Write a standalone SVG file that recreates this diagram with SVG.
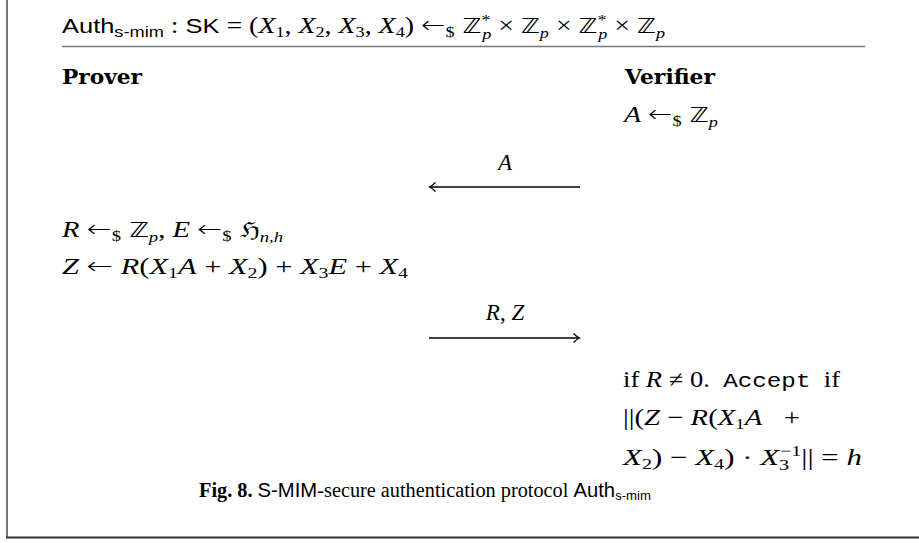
<svg xmlns="http://www.w3.org/2000/svg" width="919" height="543" viewBox="0 0 919 543">
<style>
.m { font-family: "Liberation Serif", serif; font-size: 23px; fill: #000; }
.i { font-style: italic; }
.sf { font-family: "Liberation Sans", sans-serif; }
.bb { font-family: "DejaVu Sans", sans-serif; font-style: normal; font-size: 21px; }
.ar { font-family: "DejaVu Sans", sans-serif; font-size: 24px; font-style: normal; font-weight: 200; }
.b { font-family: "DejaVu Serif", serif; font-weight: bold; font-size: 20px; fill: #000; }
.tt { font-family: "Liberation Mono", monospace; font-size: 21px; }
.s { font-size: 15px; }
.cap { font-family: "Liberation Serif", serif; font-size: 20px; fill: #000; }
.frame { stroke: #777; stroke-width: 2; fill: none; }
.conn { stroke: #000; stroke-width: 1.3; fill: none; }
</style>
<rect width="919" height="543" fill="#fff"/>
<line class="frame" x1="7" y1="0" x2="7" y2="538"/>
<line x1="6" y1="537.5" x2="919" y2="537.5" stroke="#333" stroke-width="2"/>

<g id="header">
<text class="m" x="62" y="33" textLength="603" lengthAdjust="spacingAndGlyphs"><tspan class="sf" font-size="21">Auth</tspan><tspan class="sf s" dy="4">s-mim</tspan><tspan dy="-4"> : </tspan><tspan class="sf" font-size="21">SK</tspan> = (<tspan class="i">X</tspan><tspan class="s" dy="4">1</tspan><tspan dy="-4">, </tspan><tspan class="i">X</tspan><tspan class="s" dy="4">2</tspan><tspan dy="-4">, </tspan><tspan class="i">X</tspan><tspan class="s" dy="4">3</tspan><tspan dy="-4">, </tspan><tspan class="i">X</tspan><tspan class="s" dy="4">4</tspan><tspan dy="-4">) </tspan><tspan class="ar">←</tspan><tspan class="s" dy="4">$</tspan><tspan class="bb" dy="-4"> ℤ</tspan><tspan class="s" dy="-8">*</tspan><tspan class="s i" dx="-7" dy="14">p</tspan><tspan dy="-6"> × </tspan><tspan class="bb">ℤ</tspan><tspan class="s i" dy="5">p</tspan><tspan dy="-5"> × </tspan><tspan class="bb">ℤ</tspan><tspan class="s" dy="-8">*</tspan><tspan class="s i" dx="-7" dy="14">p</tspan><tspan dy="-6"> × </tspan><tspan class="bb">ℤ</tspan><tspan class="s i" dy="5">p</tspan></text>
<line x1="62" y1="46.5" x2="865" y2="46.5" stroke="#777" stroke-width="1.6"/>
</g>

<g id="prover">
<text class="b" x="62" y="84" textLength="80" lengthAdjust="spacingAndGlyphs">Prover</text>
<text class="m" x="62" y="237" textLength="221" lengthAdjust="spacingAndGlyphs"><tspan class="i">R</tspan> <tspan class="ar">←</tspan><tspan class="s" dy="4">$</tspan><tspan class="bb" dy="-4"> ℤ</tspan><tspan class="s i" dy="5">p</tspan><tspan dy="-5">, </tspan><tspan class="i">E</tspan> <tspan class="ar">←</tspan><tspan class="s" dy="4">$</tspan><tspan class="bb" dy="-4"> ℌ</tspan><tspan class="s i" dy="5">n,h</tspan></text>
<text class="m" x="62" y="274" textLength="346" lengthAdjust="spacingAndGlyphs"><tspan class="i">Z</tspan> <tspan class="ar">←</tspan> <tspan class="i">R</tspan>(<tspan class="i">X</tspan><tspan class="s" dy="4">1</tspan><tspan class="i" dy="-4">A</tspan> + <tspan class="i">X</tspan><tspan class="s" dy="4">2</tspan><tspan dy="-4">) + </tspan><tspan class="i">X</tspan><tspan class="s" dy="4">3</tspan><tspan class="i" dy="-4">E</tspan> + <tspan class="i">X</tspan><tspan class="s" dy="4">4</tspan></text>
</g>

<g id="verifier">
<text class="b" x="625" y="84" textLength="90" lengthAdjust="spacingAndGlyphs">Verifier</text>
<text class="m" x="624" y="122" textLength="94" lengthAdjust="spacingAndGlyphs"><tspan class="i">A</tspan> <tspan class="ar">←</tspan><tspan class="s" dy="4">$</tspan><tspan class="bb" dy="-4"> ℤ</tspan><tspan class="s i" dy="5">p</tspan></text>
<text class="m" x="623" y="387" textLength="217" lengthAdjust="spacingAndGlyphs">if <tspan class="i">R</tspan> ≠ 0.&#160;&#160;<tspan class="tt">Accept</tspan>&#160;&#160;if</text>
<text class="m" x="623" y="425" textLength="177" lengthAdjust="spacingAndGlyphs">||(<tspan class="i">Z</tspan> − <tspan class="i">R</tspan>(<tspan class="i">X</tspan><tspan class="s" dy="4">1</tspan><tspan class="i" dy="-4">A</tspan>&#160;&#160;&#160;+</text>
<text class="m" x="623" y="465" textLength="239" lengthAdjust="spacingAndGlyphs"><tspan class="i">X</tspan><tspan class="s" dy="4">2</tspan><tspan dy="-4">) − </tspan><tspan class="i">X</tspan><tspan class="s" dy="4">4</tspan><tspan dy="-4">) · </tspan><tspan class="i">X</tspan><tspan class="s" dy="5">3</tspan><tspan class="s" dx="-7" dy="-14">−1</tspan><tspan dy="9">|| = </tspan><tspan class="i">h</tspan></text>
</g>

<g id="connectors">
<text class="m i" x="505" y="170" text-anchor="middle">A</text>
<line class="conn" x1="430" y1="187" x2="580" y2="187"/>
<path class="conn" d="M435.5,182.5 Q432,186 429.5,187 Q432,188 435.5,191.5"/>
<text class="m" x="505" y="320" text-anchor="middle"><tspan class="i">R</tspan>, <tspan class="i">Z</tspan></text>
<line class="conn" x1="429" y1="338" x2="579" y2="338"/>
<path class="conn" d="M573.5,333.5 Q577,337 579.5,338 Q577,339 573.5,342.5"/>
</g>

<g id="caption">
<text class="cap" x="199" y="497" textLength="452" lengthAdjust="spacingAndGlyphs"><tspan font-weight="bold">Fig. 8.</tspan> <tspan class="sf">S-MIM</tspan>-secure authentication protocol <tspan class="sf">Auth</tspan><tspan class="sf" font-size="13" dy="3">s-mim</tspan></text>
</g>
</svg>
